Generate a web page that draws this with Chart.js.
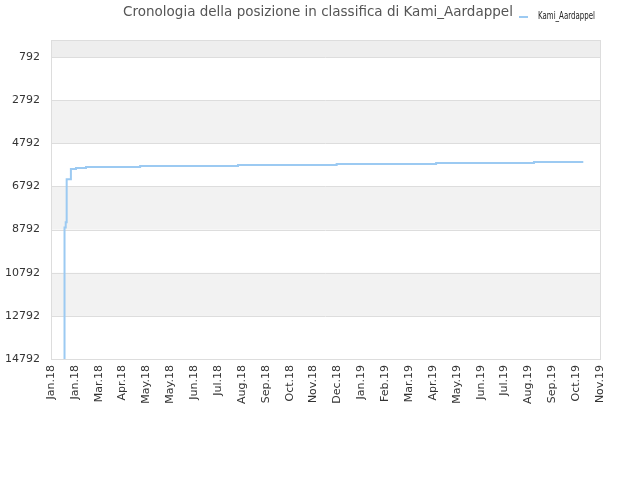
<!DOCTYPE html>
<html>
<head>
<meta charset="utf-8">
<script src="https://cdn.jsdelivr.net/npm/chart.js@4/dist/chart.umd.min.js"></script>
<style>
    html, body { margin: 0; padding: 0; background: #fff; }
    #wrap { width: 640px; height: 480px; }
</style>
</head>
<body>
<div id="wrap"><canvas id="rankChart" width="640" height="480"></canvas></div>
<script>
// data: day since 1 Jan 2018 -> position in ranking
const days = [17, 17, 17, 18.5, 19.7, 25, 31.4, 44, 112, 235, 359, 484, 607, 669];
const ranks = [14792, 11000, 8700, 8450, 6460, 5985, 5940, 5890, 5845, 5800, 5755, 5705, 5660, 5660];

// x tick labels, one every 30 days
const monthLabels = ['Jan.18', 'Jan.18', 'Mar.18', 'Apr.18', 'May.18', 'May.18', 'Jun.18', 'Jul.18',
    'Aug.18', 'Sep.18', 'Oct.18', 'Nov.18', 'Dec.18', 'Jan.19', 'Feb.19', 'Mar.19', 'Apr.19',
    'May.19', 'Jun.19', 'Jul.19', 'Aug.19', 'Sep.19', 'Oct.19', 'Nov.19'];
const rankTicks = [792, 2792, 4792, 6792, 8792, 10792, 12792, 14792];

const seriesName = 'Kami_Aardappel';
const titleText = 'Cronologia della posizione in classifica di ' + seriesName;
const lineColor = '#9ccaf2';
const font = '"DejaVu Sans", Verdana, sans-serif';

// alternating bands behind the plot + border
const bandsPlugin = {
    id: 'bands',
    beforeDatasetsDraw(chart) {
        let ctx = chart.ctx;
        let area = chart.chartArea;
        let y = chart.scales.y;
        let edges = [y.min].concat(rankTicks);
        ctx.save();
        for (let i = 0; i < edges.length - 1; i++) {
            if (i % 2 === 1) continue;
            let top = y.getPixelForValue(edges[i]);
            let bottom = y.getPixelForValue(edges[i + 1]);
            ctx.fillStyle = i === 0 ? '#eeeeee' : '#f2f2f2';
            ctx.fillRect(area.left, top, area.right - area.left, bottom - top);
        }
        // grid lines on top of the bands
        ctx.strokeStyle = '#dddddd';
        ctx.lineWidth = 1;
        rankTicks.forEach(function (t) {
            let py = Math.round(y.getPixelForValue(t)) + 0.5;
            ctx.beginPath();
            ctx.moveTo(area.left, py);
            ctx.lineTo(area.right, py);
            ctx.stroke();
        });
        ctx.strokeRect(Math.round(area.left) + 0.5, Math.round(area.top) + 0.5,
            Math.round(area.right - area.left), Math.round(area.bottom - area.top));
        ctx.restore();
    }
};

// title + legend share the top line, title a bit right of centre
const headerPlugin = {
    id: 'header',
    afterDraw(chart) {
        let ctx = chart.ctx;
        ctx.save();
        ctx.fillStyle = '#555555';
        ctx.font = '13.5px ' + font;
        ctx.textBaseline = 'middle';
        ctx.textAlign = 'center';
        ctx.fillText(titleText, 318, 12);

        ctx.strokeStyle = lineColor;
        ctx.lineWidth = 2;
        ctx.beginPath();
        ctx.moveTo(519, 17);
        ctx.lineTo(528, 17);
        ctx.stroke();
        ctx.fillStyle = '#222';
        ctx.font = '11px ' + font;
        ctx.textAlign = 'left';
        ctx.fillText(seriesName, 538, 16, 57);
        ctx.restore();
    }
};

let rankData = days.map(function (d, i) {
    return { x: d, y: ranks[i] };
});

let rankChart = new Chart(document.getElementById('rankChart').getContext('2d'), {
    type: 'line',
    data: {
        datasets: [{
            label: seriesName,
            data: rankData,
            borderColor: lineColor,
            backgroundColor: lineColor,
            borderWidth: 2,
            stepped: true,
            pointRadius: 0,
            fill: false
        }]
    },
    options: {
        responsive: false,
        animation: false,
        layout: {
            padding: { left: 0, right: 40, top: 40, bottom: 70 }
        },
        plugins: {
            legend: { display: false },
            tooltip: { enabled: false },
            title: { display: false }
        },
        scales: {
            x: {
                type: 'linear',
                min: 0,
                max: 690,
                afterBuildTicks: function (scale) {
                    scale.ticks = monthLabels.map(function (l, i) { return { value: i * 30 }; });
                },
                afterFit: function (scale) { scale.height = 51; },
                grid: { display: false, drawTicks: false },
                border: { display: false },
                ticks: {
                    autoSkip: false,
                    minRotation: 90,
                    maxRotation: 90,
                    padding: 6,
                    color: '#333333',
                    font: { family: font, size: 11 },
                    callback: function (v) { return monthLabels[Math.round(v / 30)]; }
                }
            },
            y: {
                type: 'linear',
                reverse: true,
                min: 0,
                max: 14792,
                afterBuildTicks: function (scale) {
                    scale.ticks = rankTicks.map(function (t) { return { value: t }; });
                },
                afterFit: function (scale) { scale.width = 51; },
                grid: { display: false, drawTicks: false },
                border: { display: false },
                ticks: {
                    padding: 11,
                    color: '#333333',
                    font: { family: font, size: 11 },
                    callback: function (v) { return String(v); }
                }
            }
        }
    },
    plugins: [bandsPlugin, headerPlugin]
});
</script>
</body>
</html>
